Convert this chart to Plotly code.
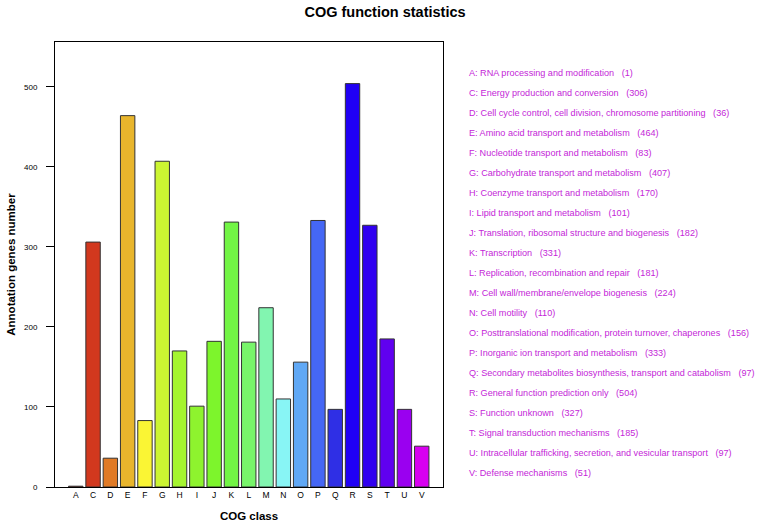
import plotly.graph_objects as go

categories = ["A", "C", "D", "E", "F", "G", "H", "I", "J", "K", "L",
              "M", "N", "O", "P", "Q", "R", "S", "T", "U", "V"]
descriptions = [
    "RNA processing and modification",
    "Energy production and conversion",
    "Cell cycle control, cell division, chromosome partitioning",
    "Amino acid transport and metabolism",
    "Nucleotide transport and metabolism",
    "Carbohydrate transport and metabolism",
    "Coenzyme transport and metabolism",
    "Lipid transport and metabolism",
    "Translation, ribosomal structure and biogenesis",
    "Transcription",
    "Replication, recombination and repair",
    "Cell wall/membrane/envelope biogenesis",
    "Cell motility",
    "Posttranslational modification, protein turnover, chaperones",
    "Inorganic ion transport and metabolism",
    "Secondary metabolites biosynthesis, transport and catabolism",
    "General function prediction only",
    "Function unknown",
    "Signal transduction mechanisms",
    "Intracellular trafficking, secretion, and vesicular transport",
    "Defense mechanisms",
]
values = [1, 306, 36, 464, 83, 407, 170, 101, 182, 331, 181,
          224, 110, 156, 333, 97, 504, 327, 185, 97, 51]
colors = ["#B0281C", "#D2381E", "#E07A25", "#E8B52C", "#FAF534", "#CCF532",
          "#A5F52F", "#8EF32E", "#7DF52C", "#72F545", "#78F56A", "#82F5B0",
          "#88F5F5", "#60A8F5", "#4567F5", "#2F2FE5", "#2000F5", "#3000F0",
          "#6000F0", "#9A00F0", "#D800F0"]
y_ticks = [0, 100, 200, 300, 400, 500]

W, H = 758, 525
ML, MR, MT, MB = 55, 315, 42, 38
plot_h = H - MT - MB
plot_w = W - ML - MR

fig = go.Figure()
fig.add_trace(go.Bar(
    x=list(range(len(categories))), y=values,
    marker=dict(color=colors, line=dict(color="#333333", width=1)),
    width=0.833,
))

font_family = "Liberation Sans, Arial, sans-serif"
legend_color = "#C426D8"
annotations = []
n = len(categories)
for i, (c, d, v) in enumerate(zip(categories, descriptions, values)):
    ypx = 73.3 + 19.97 * i
    annotations.append(dict(
        text=f"{c}: {d}\u00a0\u00a0\u00a0({v})",
        xref="paper", yref="paper",
        x=(467 - ML) / plot_w, y=(H - MB - ypx) / plot_h,
        xanchor="left", yanchor="middle", showarrow=False,
        font=dict(size=9.1, color=legend_color, family=font_family),
    ))

fig.update_layout(
    width=W, height=H,
    margin=dict(l=ML, r=MR, t=MT, b=MB, autoexpand=False),
    paper_bgcolor="white", plot_bgcolor="white",
    showlegend=False,
    font=dict(family=font_family, color="black"),
    title=dict(text="<b>COG function statistics</b>", x=385 / W, xanchor="center",
               y=1 - 12 / H, yanchor="middle",
               font=dict(size=14.5, family=font_family, color="black")),
    xaxis=dict(
        range=[-1.2, n - 1 + 1.23], automargin=False,
        tickmode="array", tickvals=list(range(n)), ticktext=categories,
        showline=True, mirror=True, linecolor="black", linewidth=1,
        ticks="", showgrid=False, zeroline=False,
        tickfont=dict(size=8.5, family=font_family, color="black"),
        title=dict(text="<b>COG class</b>", standoff=12,
                   font=dict(size=11.5, family=font_family, color="black")),
    ),
    yaxis=dict(
        range=[0, 556], automargin=False,
        tickmode="array", tickvals=y_ticks,
        showline=True, mirror=True, linecolor="black", linewidth=1,
        ticks="outside", ticklen=8, tickcolor="black", tickwidth=1,
        showgrid=False, zeroline=False,
        ticklabelstandoff=7,
        tickfont=dict(size=8, family=font_family, color="black"),
        title=dict(text="<b>Annotation genes number</b>", standoff=6,
                   font=dict(size=11.5, family=font_family, color="black")),
    ),
    annotations=annotations,
)

fig.write_html("out.html", config={"displayModeBar": False},
               post_script="document.body.style.margin='0';document.body.style.overflow='hidden';")
